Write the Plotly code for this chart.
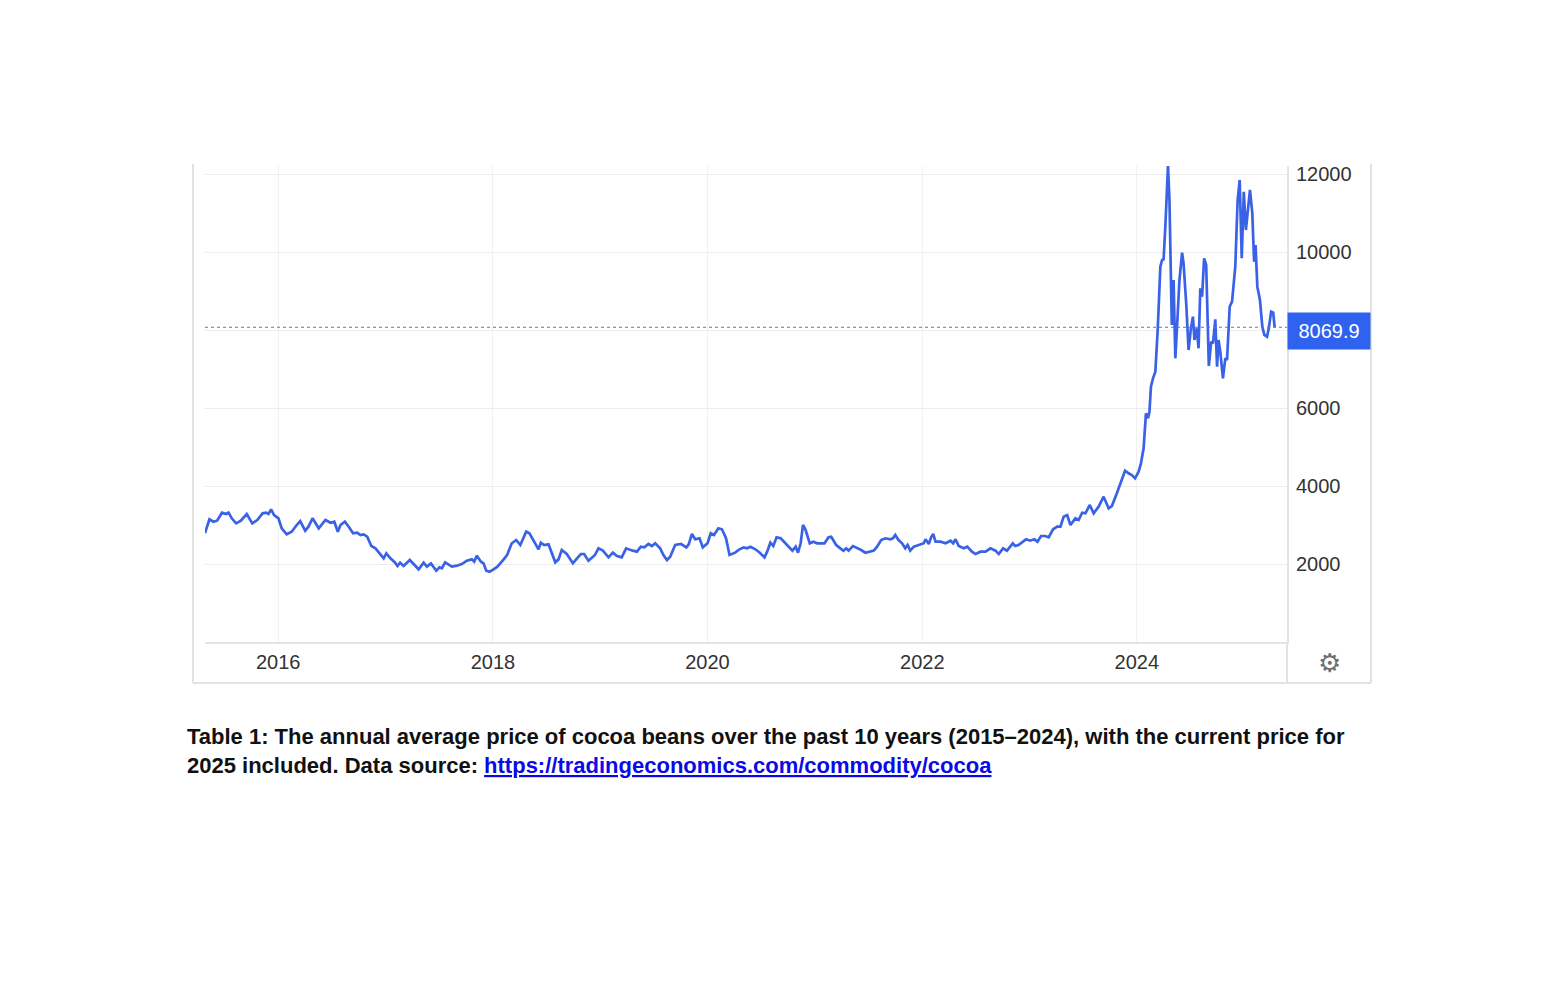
import plotly.graph_objects as go

# Cocoa price (USD/T)
dates = [
    "2015-04-27", "2015-05-12", "2015-05-26", "2015-06-07", "2015-06-24", "2015-07-08", "2015-07-16",
    "2015-07-27", "2015-08-11", "2015-08-27", "2015-09-16", "2015-10-05", "2015-10-22", "2015-11-09",
    "2015-11-21", "2015-11-29", "2015-12-08", "2015-12-18", "2016-01-02", "2016-01-13", "2016-01-30",
    "2016-02-16", "2016-03-04", "2016-03-16", "2016-04-02", "2016-04-13", "2016-04-27", "2016-05-18",
    "2016-06-10", "2016-06-27", "2016-07-10", "2016-07-22", "2016-07-31", "2016-08-15", "2016-08-28",
    "2016-09-12", "2016-09-26", "2016-10-07", "2016-10-18", "2016-10-30", "2016-11-13", "2016-11-27",
    "2016-12-14", "2016-12-25", "2017-01-03", "2017-01-17", "2017-02-02", "2017-02-10", "2017-02-19",
    "2017-03-03", "2017-03-24", "2017-04-06", "2017-04-23", "2017-05-10", "2017-05-21", "2017-06-04",
    "2017-06-22", "2017-07-03", "2017-07-11", "2017-07-22", "2017-08-14", "2017-08-31", "2017-09-17",
    "2017-10-04", "2017-10-21", "2017-10-29", "2017-11-07", "2017-11-21", "2017-11-30", "2017-12-09",
    "2017-12-20", "2018-01-03", "2018-01-16", "2018-01-31", "2018-02-18", "2018-03-06", "2018-03-21",
    "2018-04-04", "2018-04-24", "2018-05-05", "2018-05-19", "2018-06-05", "2018-06-13", "2018-06-24",
    "2018-07-09", "2018-07-20", "2018-08-01", "2018-08-12", "2018-08-23", "2018-09-09", "2018-09-30",
    "2018-10-11", "2018-10-27", "2018-11-07", "2018-11-22", "2018-12-14", "2018-12-26", "2019-01-10",
    "2019-01-29", "2019-02-13", "2019-02-27", "2019-03-15", "2019-03-30", "2019-04-22", "2019-05-06",
    "2019-05-19", "2019-05-31", "2019-06-14", "2019-06-26", "2019-07-07", "2019-07-24", "2019-08-04",
    "2019-08-16", "2019-08-27", "2019-09-13", "2019-10-03", "2019-10-21", "2019-10-29", "2019-11-09",
    "2019-11-20", "2019-12-05", "2019-12-16", "2020-01-01", "2020-01-12", "2020-01-23", "2020-02-07",
    "2020-02-19", "2020-03-04", "2020-03-16", "2020-04-04", "2020-04-19", "2020-05-03", "2020-05-15",
    "2020-05-26", "2020-06-12", "2020-06-27", "2020-07-05", "2020-07-13", "2020-07-22", "2020-08-02",
    "2020-08-12", "2020-08-23", "2020-09-06", "2020-09-20", "2020-10-04", "2020-10-16", "2020-10-27",
    "2020-11-04", "2020-11-13", "2020-11-21", "2020-11-30", "2020-12-14", "2020-12-26", "2021-01-08",
    "2021-02-02", "2021-02-16", "2021-02-25", "2021-03-14", "2021-03-28", "2021-04-08", "2021-04-17",
    "2021-04-25", "2021-05-10", "2021-05-24", "2021-06-07", "2021-06-21", "2021-07-06", "2021-07-20",
    "2021-07-31", "2021-08-14", "2021-08-28", "2021-09-14", "2021-09-23", "2021-10-01", "2021-10-12",
    "2021-10-24", "2021-11-04", "2021-11-12", "2021-11-21", "2021-12-03", "2021-12-20", "2022-01-06",
    "2022-01-12", "2022-01-23", "2022-01-31", "2022-02-07", "2022-02-15", "2022-03-04", "2022-03-21",
    "2022-04-07", "2022-04-16", "2022-04-24", "2022-05-05", "2022-05-22", "2022-06-03", "2022-06-19",
    "2022-07-01", "2022-07-18", "2022-08-04", "2022-08-21", "2022-09-07", "2022-09-18", "2022-10-03",
    "2022-10-16", "2022-11-05", "2022-11-13", "2022-11-24", "2022-12-09", "2022-12-20", "2023-01-03",
    "2023-01-17", "2023-01-28", "2023-02-09", "2023-02-23", "2023-03-07", "2023-03-22", "2023-04-05",
    "2023-04-16", "2023-04-27", "2023-05-09", "2023-05-20", "2023-06-06", "2023-06-17", "2023-06-29",
    "2023-07-10", "2023-07-25", "2023-08-07", "2023-08-24", "2023-09-10", "2023-09-27", "2023-10-08",
    "2023-10-25", "2023-11-05", "2023-11-22", "2023-12-04", "2023-12-15", "2023-12-26", "2024-01-07",
    "2024-01-15", "2024-01-24", "2024-02-01", "2024-02-08", "2024-02-13", "2024-02-18", "2024-02-25",
    "2024-03-04", "2024-03-12", "2024-03-21", "2024-03-27", "2024-04-01", "2024-04-07", "2024-04-16",
    "2024-04-21", "2024-04-26", "2024-04-29", "2024-05-05", "2024-05-11", "2024-05-18", "2024-05-25",
    "2024-06-03", "2024-06-08", "2024-06-17", "2024-06-25", "2024-07-03", "2024-07-10", "2024-07-15",
    "2024-07-23", "2024-07-29", "2024-08-04", "2024-08-10", "2024-08-17", "2024-08-24", "2024-09-02",
    "2024-09-10", "2024-09-16", "2024-09-24", "2024-09-30", "2024-10-05", "2024-10-11", "2024-10-20",
    "2024-10-28", "2024-11-03", "2024-11-12", "2024-11-20", "2024-12-01", "2024-12-09", "2024-12-16",
    "2024-12-23", "2024-12-30", "2025-01-06", "2025-01-13", "2025-01-20", "2025-01-28", "2025-02-03",
    "2025-02-08", "2025-02-14", "2025-02-23", "2025-03-03", "2025-03-10", "2025-03-19", "2025-03-25",
    "2025-04-02", "2025-04-09", "2025-04-14",
]

prices = [
    2790, 3146, 3085, 3110, 3316, 3282, 3316,
    3171, 3043, 3110, 3282, 3043, 3128, 3300,
    3316, 3282, 3402, 3256, 3171, 2915, 2761,
    2828, 3000, 3102, 2854, 2956, 3171, 2915,
    3128, 3059, 3085, 2828, 3000, 3085, 2956,
    2787, 2802, 2743, 2761, 2700, 2461, 2402,
    2248, 2146, 2274, 2146, 2034, 1949, 2034,
    1949, 2102, 2000, 1864, 2034, 1932, 2017,
    1829, 1915, 1889, 2043, 1932, 1957, 2000,
    2085, 2119, 2060, 2213, 2060, 2017, 1829,
    1803, 1864, 1932, 2060, 2231, 2531, 2615,
    2487, 2828, 2787, 2615, 2377, 2547, 2487,
    2504, 2274, 2043, 2119, 2359, 2256, 2017,
    2119, 2256, 2256, 2085, 2231, 2402, 2342,
    2171, 2290, 2205, 2171, 2402, 2342, 2316,
    2444, 2427, 2513, 2461, 2531, 2402, 2231,
    2102, 2188, 2487, 2513, 2427, 2504, 2769,
    2633, 2659, 2427, 2531, 2787, 2743, 2915,
    2890, 2659, 2231, 2290, 2377, 2427, 2402,
    2444, 2377, 2290, 2231, 2171, 2316, 2547,
    2461, 2684, 2659, 2556, 2444, 2342, 2444,
    2290, 2531, 3000, 2872, 2531, 2572, 2531,
    2531, 2684, 2700, 2487, 2402, 2342, 2402,
    2342, 2461, 2418, 2359, 2290, 2316, 2342,
    2444, 2615, 2659, 2633, 2659, 2743, 2615,
    2531, 2402, 2487, 2342, 2444, 2487, 2531,
    2633, 2513, 2684, 2769, 2572, 2572, 2531,
    2598, 2531, 2633, 2461, 2402, 2444, 2316,
    2256, 2316, 2316, 2402, 2342, 2256, 2402,
    2342, 2531, 2461, 2487, 2572, 2633, 2598,
    2633, 2572, 2718, 2718, 2684, 2890, 2956,
    2956, 3213, 3256, 3000, 3171, 3128, 3316,
    3300, 3513, 3300, 3470, 3726, 3428, 3487,
    3812, 4026, 4392, 4325, 4282, 4197, 4367,
    4581, 4966, 5863, 5735, 5905, 6546, 6760,
    6931, 8000, 9623, 9795, 9812, 10649, 12205,
    11333, 9367, 8128, 9282, 7274, 8256, 9282,
    9983, 9710, 8684, 7487, 8043, 8341, 7743,
    8043, 7530, 9069, 8854, 9838, 9667, 7077,
    7700, 7658, 8274, 7059, 7743, 7444, 6760,
    7274, 7231, 8598, 8726, 9623, 11333, 11846,
    9838, 11546, 10564, 11077, 11590, 10991, 9751,
    10179, 9111, 8769, 8085, 7872, 7828, 8043,
    8470, 8444, 8069.9,
]

y_ticks = [2000, 4000, 6000, 8000, 10000, 12000]
y_tick_text = ["2000", "4000", "6000", "", "10000", "12000"]

caption_line1 = "Table 1: The annual average price of cocoa beans over the past 10 years (2015\u20132024), with the current price for"
caption_line2 = "2025 included. Data source: "
caption_link = "https://tradingeconomics.com/commodity/cocoa"

LINE_COLOR = "#3a62e6"
BOX_COLOR = "#2f62ee"
FRAME = "#e2e2e2"
FONT = "Liberation Sans, Arial, sans-serif"

# page body has an 8px margin: plot area should span x 205..1287, y 166..642 on screen
OFF = 8
PL, PR, PT, PB = 205 - OFF, 1287 - OFF, 166 - OFF, 642 - OFF
W, H = 1540, 985
PW, PH = PR - PL, PB - PT

fig = go.Figure()
fig.add_trace(go.Scatter(
    x=dates, y=prices, mode="lines",
    line=dict(color=LINE_COLOR, width=2.7),
    hoverinfo="x+y", showlegend=False,
))

last = prices[-1]
fig.add_hline(y=last, line=dict(color="#6a6ad8", width=1, dash="dot"))

fig.update_layout(
    width=W, height=H,
    margin=dict(l=PL, r=W - PR, t=PT, b=H - PB),
    paper_bgcolor="white", plot_bgcolor="white",
    font=dict(family=FONT, size=20, color="#333333"),
    showlegend=False,
)

fig.update_xaxes(
    type="date",
    range=["2015-04-27", "2025-05-26"],
    tick0="2016-01-01", dtick="M24", tickformat="%Y",
    showgrid=True, gridcolor="#f1f1f1", gridwidth=1,
    showline=True, linecolor="#e4e4e4", linewidth=2,
    ticks="", tickfont=dict(size=20, color="#333333", family=FONT),
    ticklabelstandoff=1,
    zeroline=False,
)

fig.update_yaxes(
    side="right",
    range=[0, 12205],
    tickvals=y_ticks, ticktext=y_tick_text,
    showgrid=True, gridcolor="#ececec", gridwidth=1,
    showline=True, linecolor="#e4e4e4", linewidth=2,
    ticks="", tickfont=dict(size=20, color="#333333", family=FONT),
    ticklabelstandoff=3,
    zeroline=False,
)


def px_x(sx):
    return (sx - OFF - PL) / PW


def px_y(sy):
    return (PB - (sy - OFF)) / PH


# frame of the chart widget
x_left = px_x(193)
x_right = px_x(1371)
y_bottom = px_y(683)
y_top = px_y(164)
for sh in [
    dict(x0=x_left, x1=x_left, y0=y_bottom, y1=y_top),
    dict(x0=x_left, x1=x_right, y0=y_bottom, y1=y_bottom),
    dict(x0=x_right, x1=x_right, y0=y_bottom, y1=y_top),
    dict(x0=1.0, x1=1.0, y0=y_bottom, y1=0),
]:
    fig.add_shape(type="line", xref="paper", yref="paper", layer="below",
                  line=dict(color=FRAME, width=2), **sh)

# current value label box
fig.add_annotation(
    x=1.0, xref="paper", y=last, yref="y",
    xanchor="left", yanchor="middle", yshift=-4,
    text=f"{last:.1f}", showarrow=False,
    font=dict(family=FONT, size=20, color="white"),
    bgcolor=BOX_COLOR, width=82, height=36, borderpad=0,
)

# settings gear
fig.add_annotation(
    x=px_x(1329), xref="paper", y=px_y(663), yref="paper",
    xanchor="center", yanchor="middle", text="\u2699", showarrow=False,
    font=dict(family="DejaVu Sans", size=26, color="#707070"),
)

# caption
cap_font = dict(family="Liberation Sans, Arial, sans-serif", size=22, color="#111111")
fig.add_annotation(
    x=px_x(185), xref="paper", y=px_y(736), yref="paper",
    xanchor="left", yanchor="middle", align="left", showarrow=False,
    text=f"<b>{caption_line1}</b>", font=cap_font,
)
fig.add_annotation(
    x=px_x(185), xref="paper", y=px_y(765), yref="paper",
    xanchor="left", yanchor="middle", align="left", showarrow=False,
    text=f"<b>{caption_line2}<span style='color:#0a0ae8'><u>{caption_link}</u></span></b>",
    font=cap_font,
)

fig.write_html("out.html")
